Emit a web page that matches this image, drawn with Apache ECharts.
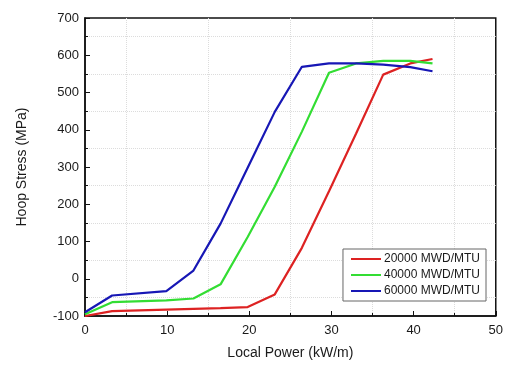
<!DOCTYPE html>
<html>
<head>
<meta charset="utf-8">
<script src="https://cdn.jsdelivr.net/npm/echarts@6/dist/echarts.min.js"></script>
<style>
  html, body { margin: 0; padding: 0; background: #fff; }
  #main { width: 506px; height: 365px; }
</style>
</head>
<body>
<div id="main"></div>
<script>
  // local power points (kW/m)
  var power = [0, 3.3, 9.9, 13.2, 16.5, 19.8, 23.1, 26.4, 29.7, 33, 36.3, 39.6, 42.3];
  var seriesNames = ['20000 MWD/MTU', '40000 MWD/MTU', '60000 MWD/MTU'];
  var stress20k = [-100, -87, -83, -81, -79, -76, -42, 83, 235, 390, 548, 578, 590];
  var stress40k = [-95, -63, -58, -53, -15, 112, 247, 395, 553, 578, 585, 585, 578];
  var stress60k = [-90, -45, -33, 22, 148, 298, 448, 569, 578, 578, 575, 568, 557];
  var colors = ['#dd2222', '#33dd33', '#1717b5'];

  function pairs(ys) {
    var out = [];
    for (var i = 0; i < power.length; i++) {
      out.push([power[i], ys[i]]);
    }
    return out;
  }

  var myChart = echarts.init(document.getElementById('main'));
  var axisFont = { color: '#1a1a1a', fontSize: 13, fontFamily: 'Liberation Sans, Arial' };

  myChart.setOption({
    animation: false,
    color: colors,
    grid: {
      left: 85, right: 10, top: 18, bottom: 45,
      show: true, borderColor: '#111', borderWidth: 1.5, backgroundColor: 'transparent'
    },
    legend: {
      orient: 'vertical',
      right: 20,
      bottom: 64,
      data: seriesNames,
      icon: 'rect',
      itemWidth: 30,
      itemHeight: 2,
      itemGap: 4,
      padding: [4, 6, 4, 8],
      backgroundColor: '#fff',
      borderColor: '#666',
      borderWidth: 1,
      textStyle: { color: '#1a1a1a', fontSize: 12, fontFamily: 'Liberation Sans, Arial', padding: [0, 0, 0, -2] }
    },
    xAxis: {
      type: 'value',
      min: 0, max: 50, interval: 10,
      name: 'Local Power (kW/m)',
      nameLocation: 'middle',
      nameGap: 30,
      nameTextStyle: { color: '#1a1a1a', fontSize: 14, fontFamily: 'Liberation Sans, Arial' },
      axisLine: { onZero: false, lineStyle: { color: '#111', width: 1.5 } },
      axisTick: { inside: true, length: 5, lineStyle: { color: '#111' } },
      minorTick: { show: true, splitNumber: 2, length: 3, lineStyle: { color: '#111' } },
      axisLabel: Object.assign({ margin: 8 }, axisFont),
      splitLine: { show: false },
      minorSplitLine: { show: true, lineStyle: { color: '#dcdcdc', type: 'dotted', width: 1 } }
    },
    yAxis: {
      type: 'value',
      min: -100, max: 700, interval: 100,
      name: 'Hoop Stress (MPa)',
      nameLocation: 'middle',
      nameGap: 56,
      nameTextStyle: { color: '#1a1a1a', fontSize: 14, fontFamily: 'Liberation Sans, Arial' },
      axisLine: { onZero: false, lineStyle: { color: '#111', width: 1.5 } },
      axisTick: { inside: true, length: 5, lineStyle: { color: '#111' } },
      minorTick: { show: true, splitNumber: 2, length: 3, lineStyle: { color: '#111' } },
      axisLabel: Object.assign({ margin: 6 }, axisFont),
      splitLine: { show: false },
      minorSplitLine: { show: true, lineStyle: { color: '#dcdcdc', type: 'dotted', width: 1 } }
    },
    series: [
      { name: seriesNames[0], type: 'line', symbol: 'none', data: pairs(stress20k), lineStyle: { width: 2.2 } },
      { name: seriesNames[1], type: 'line', symbol: 'none', data: pairs(stress40k), lineStyle: { width: 2.2 } },
      { name: seriesNames[2], type: 'line', symbol: 'none', data: pairs(stress60k), lineStyle: { width: 2.2 } }
    ]
  });
</script>
</body>
</html>
